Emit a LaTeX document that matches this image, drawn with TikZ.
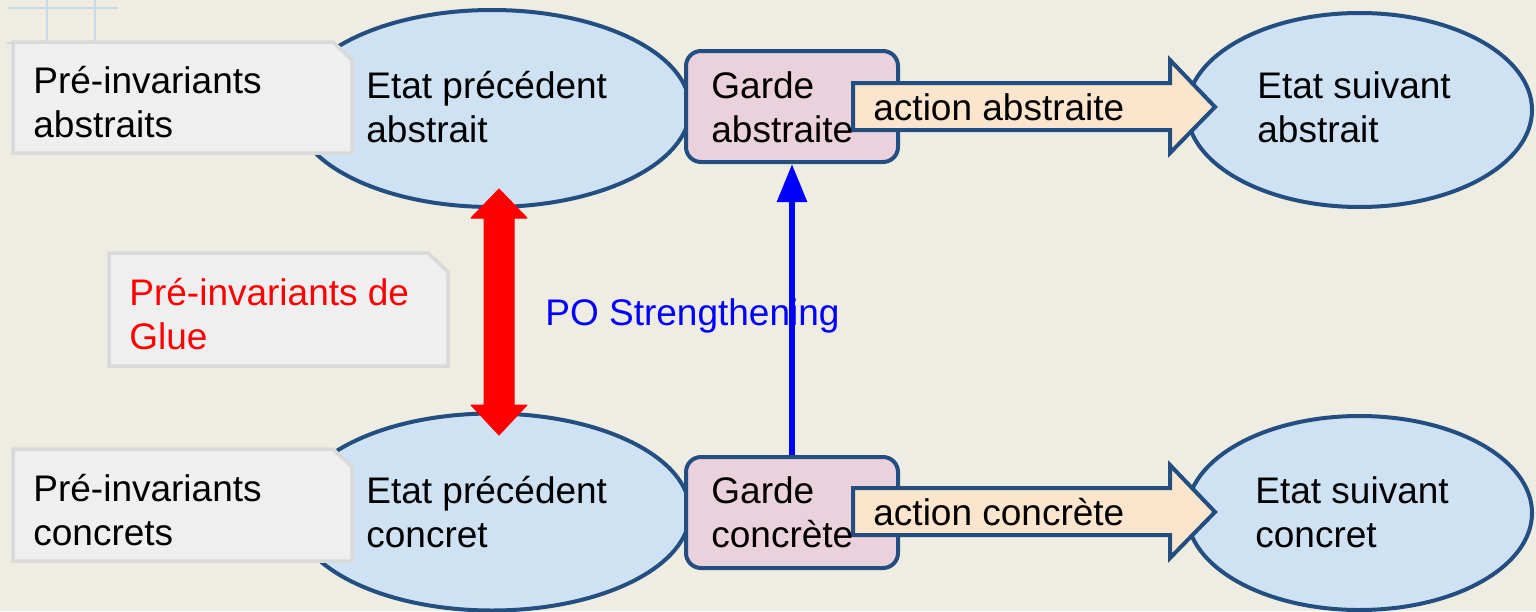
\documentclass[tikz,border=0pt]{standalone}
\usepackage{fontspec}
\setmainfont{Liberation Sans}
\usetikzlibrary{shapes.geometric,arrows.meta}
\definecolor{bg}{HTML}{EFECE2}
\definecolor{ellfill}{HTML}{CFE2F3}
\definecolor{navy}{HTML}{234E82}
\definecolor{gardefill}{HTML}{EAD1DC}
\definecolor{actfill}{HTML}{FCE5CD}
\definecolor{notefill}{HTML}{EFEFEF}
\definecolor{noteline}{HTML}{D9D9D9}
\definecolor{gridline}{HTML}{C9D9EA}
\begin{document}
\begin{tikzpicture}[x=0.5pt,y=-0.5pt,
  txt/.style={anchor=base west,inner sep=0,font=\fontsize{18.5pt}{22pt}\selectfont},
  etat/.style={ellipse,draw=navy,fill=ellfill,line width=2pt,inner sep=0},
  garde/.style={rectangle,rounded corners=7.5pt,draw=navy,fill=gardefill,line width=2pt,inner sep=0,minimum width=106pt,minimum height=55.5pt},
  notebox/.style={draw=noteline,fill=notefill,line width=1.75pt,line join=miter},
  actarrow/.style={draw=navy,fill=actfill,line width=2pt,line join=miter}]
\useasboundingbox (0,0) rectangle (1536,611);
\fill[bg] (0,0) rectangle (1536,611);
% grid lines
\draw[gridline,line width=1pt] (7,8) -- (118,8) (47,0) -- (47,42) (95,0) -- (95,42) (7,43) -- (14,43);
% ellipses
\node[etat,minimum width=198pt,minimum height=98.5pt] (etl) at (492,108.5) {};
\node[etat,minimum width=198pt,minimum height=98.5pt] (ebl) at (492,512) {};
\node[etat,minimum width=172.5pt,minimum height=97pt] (etr) at (1359.5,110) {};
\node[etat,minimum width=172.5pt,minimum height=97pt] (ebr) at (1359.5,513) {};
% notes
\draw[notebox] (13,42) -- (333,42) -- (352,60) -- (352,153) -- (13,153) -- cycle;
\draw[notebox] (13,449) -- (333,449) -- (352,467) -- (352,561) -- (13,561) -- cycle;
\draw[notebox] (109,253) -- (428,253) -- (448,272) -- (448,366) -- (109,366) -- cycle;
% garde boxes
\node[garde] (ga) at (792,106.5) {};
\node[garde] (gc) at (792,512.5) {};
% action arrows
\draw[actarrow] (853,83) -- (1170,83) -- (1170,60) -- (1215,107) -- (1170,153) -- (1170,130) -- (853,130) -- cycle;
\draw[actarrow] (853,488) -- (1170,488) -- (1170,465) -- (1215,512) -- (1170,558) -- (1170,535) -- (853,535) -- cycle;
% texts
\node[txt] (ntl1) at (33,93) {Pré-invariants};
\node[txt] (ntl2) at (33,137) {abstraits};
\node[txt] (nbl1) at (33,501) {Pré-invariants};
\node[txt] (nbl2) at (33,545) {concrets};
\node[txt,text=red] (ng1) at (129,305) {Pré-invariants de};
\node[txt,text=red] (ng2) at (129,349) {Glue};
\node[txt] (etl1) at (366,98) {Etat précédent};
\node[txt] (etl2) at (366,142) {abstrait};
\node[txt] (ebl1) at (366,503) {Etat précédent};
\node[txt] (ebl2) at (366,547) {concret};
\node[txt] (ga1) at (711,98) {Garde};
\node[txt] (ga2) at (711,142) {abstraite};
\node[txt] (gc1) at (711,503) {Garde};
\node[txt] (gc2) at (711,547) {concrète};
\node[txt] (aa) at (873,120) {action abstraite};
\node[txt] (ac) at (873,525) {action concrète};
\node[txt] (etr1) at (1257,98) {Etat suivant};
\node[txt] (etr2) at (1257,142) {abstrait};
\node[txt] (ebr1) at (1255,503) {Etat suivant};
\node[txt] (ebr2) at (1255,547) {concret};
\node[txt,text=blue] (po) at (545,325) {PO Strengthening};
% red double arrow
\fill[red,draw=red,line width=0.5pt,line join=round] (499,189) -- (527,218) -- (514,218) -- (514,405) -- (527,405) -- (499,435) -- (471,405) -- (484,405) -- (484,218) -- (471,218) -- cycle;
% blue arrow
\draw[blue,line width=3pt,-{Triangle[width=14.5pt,length=19pt]}] (gc.north) -- (ga.south);
\end{tikzpicture}
\end{document}
